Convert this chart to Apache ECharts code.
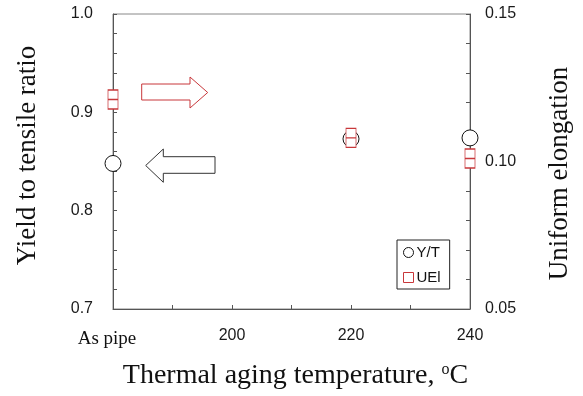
<!DOCTYPE html>
<html>
<head>
<meta charset="utf-8">
<script src="https://cdn.jsdelivr.net/npm/echarts@6/dist/echarts.min.js"></script>
<style>
html,body{margin:0;padding:0;background:#fff;}
#chart{width:583px;height:396px;}
</style>
</head>
<body>
<div id="chart"></div>
<script>
// Data
var temperatures = [180, 220, 240];           // 180 = "As pipe"
var yieldTensileRatio = [0.848, 0.873, 0.874]; // Y/T, left axis
var uniformElongation = [0.121, 0.108, 0.101]; // UEl, right axis
var xTickLabels = {180: 'As pipe', 200: '200', 220: '220', 240: '240'};
var seriesNames = ['Y/T', 'UEl'];

var RED = '#c8373a';
var chart = echarts.init(document.getElementById('chart'), null, {renderer: 'canvas'});

var ytData = temperatures.map(function (t, i) { return [t, yieldTensileRatio[i]]; });
var uelData = temperatures.map(function (t, i) { return [t, uniformElongation[i]]; });

var labelStyle = {color: '#1a1a1a', fontFamily: 'Liberation Sans, Arial, sans-serif', fontSize: 16};

chart.setOption({
  animation: false,
  backgroundColor: '#fff',
  grid: {left: 113, right: 113, top: 14, bottom: 87, show: true, borderColor: '#888', borderWidth: 1, containLabel: false},
  legend: {
    orient: 'vertical', left: 397, top: 240,
    backgroundColor: '#fff', borderColor: '#222', borderWidth: 1, borderRadius: 0,
    padding: [5, 9, 4, 6], itemGap: 10, itemWidth: 10, itemHeight: 10,
    textStyle: {color: '#111', fontFamily: 'Liberation Sans, Arial, sans-serif', fontSize: 15, padding: [0, 0, 0, -2]},
    data: [
      {name: seriesNames[0], icon: 'circle', itemStyle: {color: '#fff', borderColor: '#111', borderWidth: 1}},
      {name: seriesNames[1], icon: 'rect', itemStyle: {color: '#fff', borderColor: RED, borderWidth: 1}}
    ]
  },
  xAxis: {
    type: 'value', min: 180, max: 240, interval: 10,
    name: 'Thermal aging temperature, {sup|o}C',
    nameLocation: 'middle', nameGap: 53,
    nameTextStyle: {color: '#111', fontFamily: 'Liberation Serif, Times New Roman, serif', fontSize: 28, padding: [0, 0, 0, 8],
      rich: {sup: {fontSize: 16, fontFamily: 'Liberation Serif, serif', color: '#111', verticalAlign: 'top', padding: [0, 0, 12, 0]}}},
    axisLine: {show: true, lineStyle: {color: '#555', width: 1}},
    axisTick: {show: true, inside: true, length: 4, lineStyle: {color: '#555'}},
    axisLabel: Object.assign({}, labelStyle, {
      margin: 19,
      formatter: function (v) {
        var s = xTickLabels[v];
        if (!s) return '';
        if (v === 180) return '{a|' + s + '}';
        return s;
      },
      rich: {a: {fontFamily: 'Liberation Serif, Times New Roman, serif', fontSize: 19, color: '#111', padding: [2, 12, 0, 0]}}
    }),
    splitLine: {show: false}
  },
  yAxis: [
    {
      type: 'value', min: 0.7, max: 1.0, interval: 0.02, position: 'left',
      name: 'Yield to tensile ratio', nameLocation: 'middle', nameGap: 72, nameRotate: 90,
      nameTextStyle: {color: '#111', fontFamily: 'Liberation Serif, Times New Roman, serif', fontSize: 27, padding: [0, 0, 0, 12]},
      axisLine: {show: true, lineStyle: {color: '#555', width: 1}},
      axisTick: {show: true, inside: true, length: 4, lineStyle: {color: '#555'}},
      axisLabel: Object.assign({}, labelStyle, {
        margin: 20,
        formatter: function (v) {
          var k = Math.round(v * 100);
          return (k % 10 === 0) ? (k / 100).toFixed(1) : '';
        }
      }),
      splitLine: {show: false}
    },
    {
      type: 'value', min: 0.05, max: 0.15, interval: 0.01, position: 'right',
      name: 'Uniform elongation', nameLocation: 'middle', nameGap: 76, nameRotate: 90,
      nameTextStyle: {color: '#111', fontFamily: 'Liberation Serif, Times New Roman, serif', fontSize: 27, padding: [0, 24, 0, 0]},
      axisLine: {show: true, lineStyle: {color: '#555', width: 1}},
      axisTick: {show: true, inside: true, length: 4, lineStyle: {color: '#555'}},
      axisLabel: Object.assign({}, labelStyle, {
        margin: 15,
        formatter: function (v) {
          var k = Math.round(v * 100);
          return (k % 5 === 0) ? (k / 100).toFixed(2) : '';
        }
      }),
      splitLine: {show: false}
    }
  ],
  series: [
    {
      name: seriesNames[0], type: 'scatter', yAxisIndex: 0, data: ytData,
      symbol: 'circle', symbolSize: 16, z: 2,
      itemStyle: {color: '#fff', borderColor: '#111', borderWidth: 1, opacity: 1}
    },
    {
      name: seriesNames[1], type: 'scatter', yAxisIndex: 1, data: uelData,
      symbol: 'path://M0,0L10,0L10,19L0,19Z M0,9.5L10,9.5', symbolSize: [10, 19], z: 3,
      itemStyle: {color: '#fff', borderColor: RED, borderWidth: 1, opacity: 1}
    }
  ],
  graphic: [
    {
      type: 'polygon', z: 10,
      shape: {points: [[141.7, 84], [190, 84], [190, 77], [207.7, 92.5], [190, 108], [190, 100], [141.7, 100]]},
      style: {fill: '#fff', stroke: RED, lineWidth: 1}
    },
    {
      type: 'polygon', z: 10,
      shape: {points: [[145.7, 165.5], [163.3, 149], [163.3, 156.7], [215, 156.7], [215, 173.3], [163.3, 173.3], [163.3, 182.3]]},
      style: {fill: '#fff', stroke: '#333', lineWidth: 1}
    }
  ]
});
</script>
</body>
</html>
